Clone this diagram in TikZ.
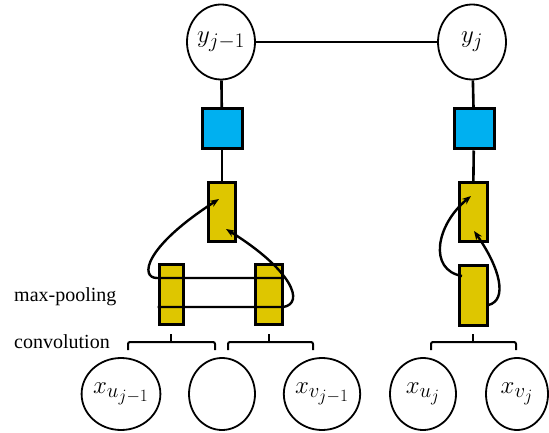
\documentclass[tikz,border=0pt]{standalone}
\usepackage{fontspec}
\setmainfont{Liberation Serif}
\DeclareMathSizes{30}{30}{22}{17}
\usetikzlibrary{shapes.geometric,arrows.meta}
\definecolor{boxblue}{RGB}{0,176,240}
\definecolor{boxyellow}{RGB}{222,198,0}
\tikzset{
  var/.style={ellipse,draw,line width=1.8pt,minimum width=66pt,minimum height=72pt,inner sep=0pt,font=\fontsize{30}{32}\selectfont},
  factor/.style={rectangle,draw,line width=3pt,fill=boxblue,minimum width=40pt,minimum height=40pt,inner sep=0pt},
  layer/.style={rectangle,draw,line width=3pt,fill=boxyellow,inner sep=0pt},
  conn/.style={line width=2.6pt},
  flow/.style={line width=2.4pt,-{Stealth[length=9pt,width=7pt]}},
  brace/.style={line width=2pt,rounded corners=2pt},
  lbl/.style={anchor=west,inner sep=0pt,font=\fontsize{20}{22}\selectfont}
}
\begin{document}
\begin{tikzpicture}[x=1pt,y=-1pt]
\useasboundingbox (0,0) rectangle (549,433);
% top variables
\node[var,minimum width=68pt,minimum height=75pt] (y1) at (221,42) {$y_{j-1}$};
\node[var,minimum width=68pt,minimum height=75pt] (y2) at (472,42) {$y_j$};
% factor boxes
\node[factor] (f1) at (222,129) {};
\node[factor] (f2) at (474,129) {};
% pooling boxes
\node[layer,minimum width=27pt,minimum height=59pt] (p1) at (222,212) {};
\node[layer,minimum width=28pt,minimum height=59pt] (p2) at (473,212) {};
% convolution boxes
\node[layer,minimum width=24pt,minimum height=60pt] (cA) at (171,294) {};
\node[layer,minimum width=27pt,minimum height=60pt] (cB) at (268.5,294) {};
\node[layer,minimum width=28pt,minimum height=60pt] (cC) at (473,295) {};
% connectors
\draw[conn] (y1) -- (y2);
\draw[conn] (y1) -- (f1);
\draw[conn] (y2) -- (f2);
\draw[conn] (f1) -- (p1);
\draw[conn] (f2) -- (p2);
% left column flows
\coordinate (a1) at (0,278);
\coordinate (a2) at (0,307);
\draw[flow] (cB.east |- a1) -- (157,278) .. controls (140,278) and (143,248) .. (219,199);
\draw[flow] (cA.west |- a2) -- (cB.east |- a2) .. controls (305,303) and (292,270) .. (226,229);
% right column flows
\draw[flow] (462,276) .. controls (428,270) and (436,225) .. (471,196);
\draw[flow] (cC.east |- 0,305) .. controls (508,300) and (500,268) .. (474,231);
% bottom variables
\node[var] (x1) at (121,394) {$x_{u_{j-1}}$};
\node[var] (x2) at (222,394) {};
\node[var] (x3) at (322,394) {$x_{v_{j-1}}$};
\node[var] (x4) at (423,394) {$x_{u_j}$};
\node[var,minimum width=62pt] (x5) at (517,394) {$x_{v_j}$};
% braces
\draw[brace] (128,350) -- (128,342) -- (215,342) -- (215,350);
\draw[brace] (228,350) -- (228,342) -- (313,342) -- (313,350);
\draw[brace] (431,350) -- (431,342) -- (516,342) -- (516,350);
\draw[line width=2pt] (cA.south |- 0,342) -- (cA.south |- 0,334);
\draw[line width=2pt] (cB.south |- 0,342) -- (cB.south |- 0,334);
\draw[line width=2pt] (cC.south |- 0,342) -- (cC.south |- 0,334);
% labels
\node[lbl] (lmp) at (14,297) {max-pooling};
\node[lbl] (lcv) at (14,342) {convolution};
\end{tikzpicture}
\end{document}
